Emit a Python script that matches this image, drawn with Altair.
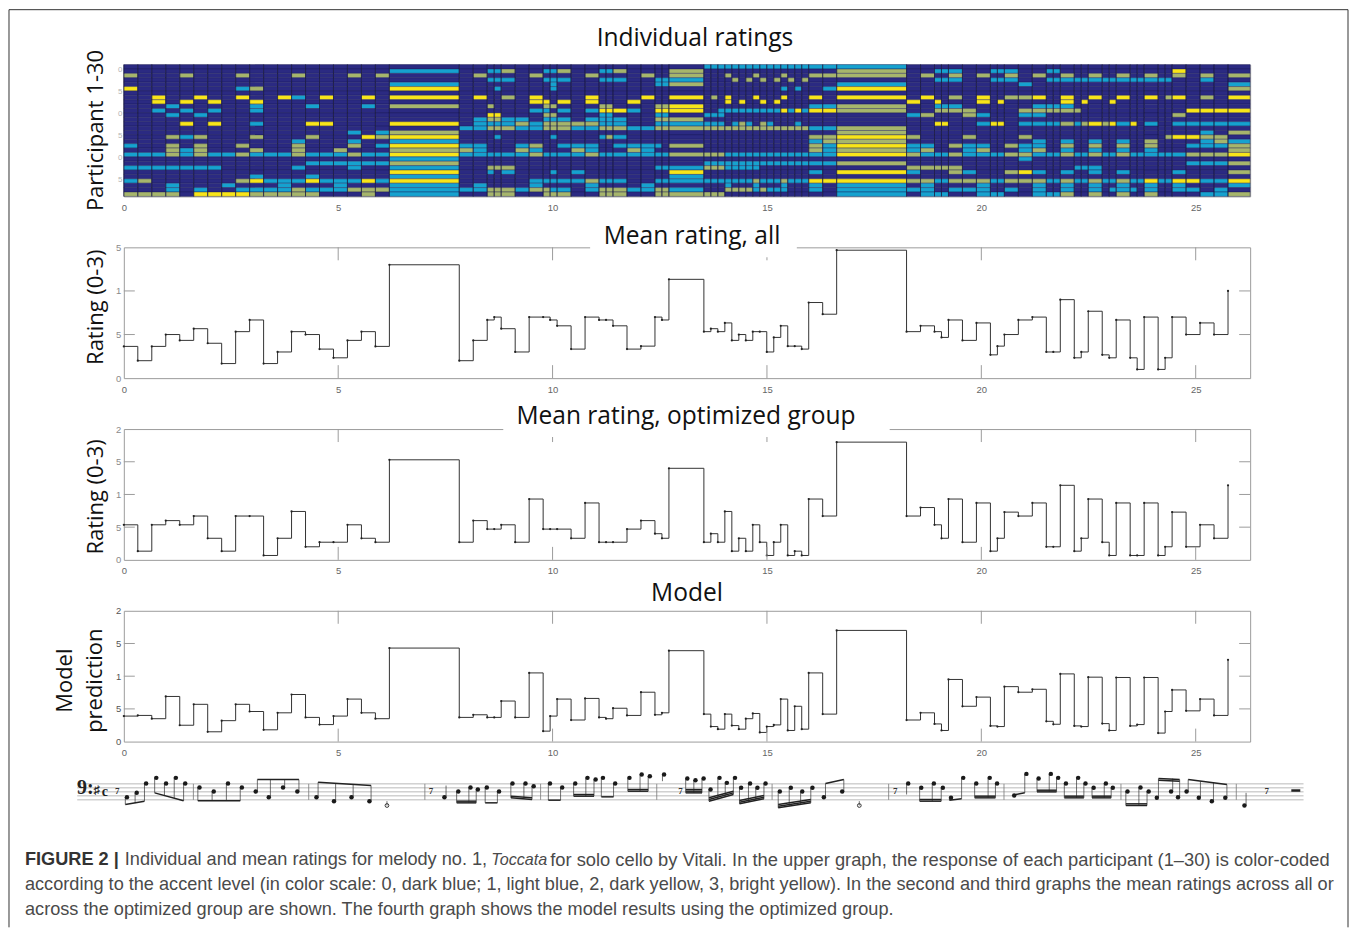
import altair as alt
import pandas as pd

# ---------- data ----------
SECONDS_PER_SIXTEENTH = 0.163
X_MAX = 26.27
ONSET = [0,2,4,6,8,10,12,14,16,18,20,22,24,26,28,30,32,34,36,38,
         48,50,52,53,54,56,58,60,61,62,64,66,68,69,70,72,74,76,77,78,
         83,84,85,86,87,88,89,90,91,92,93,94,95,96,97,98,100,102,
         112,114,116,117,118,120,122,124,125,126,128,130,132,133,134,136,137,138,
         140,141,142,144,145,146,148,149,150,152,154,156,158]

MEAN_ALL = [.364,.2,.364,.5,.433,.567,.4,.167,.533,.667,.167,.3,.533,.5,.333,.233,.433,.533,.364,1.3,
            .2,.433,.667,.7,.567,.3,.7,.7,.667,.6,.333,.7,.667,.667,.6,.333,.367,.7,.667,1.133,
            .533,.567,.533,.633,.433,.5,.433,.533,.533,.3,.467,.6,.367,.367,.333,.867,.733,1.467,
            .533,.6,.533,.467,.667,.433,.633,.267,.367,.5,.667,.7,.3,.3,.9,.233,.3,.767,
            .267,.233,.667,.233,.1,.7,.1,.233,.7,.5,.633,.5,1.0]
MEAN_OPT = [.536,.133,.536,.6,.536,.67,.33,.133,.67,.67,.067,.33,.74,.2,.27,.27,.536,.33,.27,1.53,
            .27,.6,.47,.47,.536,.27,.93,.47,.47,.47,.33,.87,.27,.27,.27,.47,.6,.4,.33,1.4,
            .27,.4,.27,.74,.133,.33,.133,.536,.27,.067,.27,.536,.067,.133,.067,.93,.67,1.8,
            .67,.8,.536,.33,.93,.27,.87,.133,.33,.73,.67,.87,.2,.2,1.14,.133,.33,.93,
            .27,.067,.87,.067,.067,.87,.067,.2,.73,.2,.536,.33,1.14]
MODEL = [.39,.4,.35,.69,.25,.57,.15,.32,.57,.46,.18,.44,.72,.37,.26,.39,.65,.44,.35,1.43,
         .37,.41,.37,.37,.62,.37,1.05,.16,.39,.65,.33,.66,.37,.35,.51,.4,.755,.41,.44,1.39,
         .42,.23,.19,.42,.245,.19,.35,.43,.14,.23,.255,.65,.17,.54,.19,1.05,.42,1.7,
         .33,.44,.27,.17,.95,.54,.68,.24,.23,.84,.755,.8,.31,.265,1.035,.24,.23,.985,
         .275,.17,.98,.24,.26,.98,.13,.46,.79,.47,.65,.40,1.25]

# every row: (first onset, last onset, accent level), top row first; anything unlisted is 0
ROW_00 = [(83,102,1)]
ROW_01 = [(38,38,1),(52,53,1),(54,54,2),(60,61,1),(62,62,2),(68,69,1),(70,70,2),(78,78,2),(102,102,2),(116,118,1),(124,126,1),(132,133,1),(150,150,3)]
ROW_02 = [(0,0,2),(8,8,2),(16,16,2),(24,24,2),(32,32,2),(36,36,2),(50,50,2),(58,58,2),(66,66,2),(74,74,2),(78,78,2),(86,86,2),(90,90,2),(94,94,2),(98,100,2),(102,102,2),(114,114,2),(118,118,2),(122,122,2),(126,126,2),(130,130,2),(134,134,2),(138,138,2),(142,142,2),(146,146,2),(150,150,2),(154,154,2),(158,158,2)]
ROW_03 = [(52,54,1),(60,62,1),(68,70,1),(76,78,1),(87,87,2),(89,89,2),(91,91,2),(93,93,2),(95,95,2),(97,97,2),(116,118,1),(124,126,1),(132,149,1),(154,154,1)]
ROW_04 = [(38,38,1),(61,61,1),(76,77,1),(78,78,2),(102,102,1),(128,128,1),(158,158,1)]
ROW_05 = [(0,0,3),(16,16,1),(18,18,2),(38,38,3),(53,53,1),(61,61,1),(94,94,1),(96,96,1),(100,100,1),(102,102,3),(158,158,2)]
ROW_06 = []
ROW_07 = [(4,4,3),(10,10,3),(16,16,3),(22,22,3),(24,24,1),(28,28,3),(34,34,3),(38,38,3),(50,50,3),(54,54,2),(58,58,3),(66,66,3),(74,74,3),(78,78,3),(84,84,2),(86,86,3),(90,90,3),(94,94,3),(98,98,3),(102,102,3),(114,114,3),(118,118,2),(122,122,3),(126,128,2),(130,130,3),(134,134,3),(138,138,3),(142,142,3),(146,146,3),(149,149,2),(150,150,3),(154,154,2),(158,158,3)]
ROW_08 = [(4,4,3),(8,8,3),(12,12,3),(18,18,3),(58,58,3),(60,60,3),(62,62,3),(66,66,3),(72,72,3),(86,86,3),(88,88,3),(91,91,3),(93,93,3),(112,112,3),(116,116,3),(122,122,3),(125,125,3),(134,134,3),(137,137,3),(141,141,3)]
ROW_09 = [(6,6,1),(18,18,1),(26,26,1),(34,34,1),(38,38,2),(52,52,2),(60,61,2),(68,69,2),(76,77,2),(78,78,3),(98,100,1),(102,102,2),(116,118,1),(130,134,1)]
ROW_10 = [(4,4,1),(8,8,1),(12,12,1),(18,18,1),(58,58,1),(60,60,1),(62,62,1),(66,66,1),(68,70,3),(72,72,1),(76,77,3),(78,78,3),(85,93,1),(94,94,3),(95,95,1),(96,96,3),(97,97,1),(98,100,3),(102,102,2),(116,120,2),(128,136,2),(152,158,3)]
ROW_11 = [(6,6,1),(10,10,1),(52,53,3),(60,61,2),(68,69,1),(76,77,1),(83,85,1),(112,112,1),(114,114,2),(120,120,2),(122,122,1),(128,130,1),(150,150,2)]
ROW_12 = [(50,50,1),(52,53,2),(54,56,1),(60,62,1),(66,66,1),(68,70,1),(76,77,2),(78,78,2)]
ROW_13 = [(8,8,3),(12,12,3),(18,18,1),(26,26,3),(28,28,3),(38,38,3),(50,54,1),(56,56,2),(58,58,1),(60,66,2),(68,70,1),(76,78,1),(83,85,1),(87,87,1),(88,88,2),(89,89,1),(91,91,2),(92,92,1),(96,96,1),(116,117,3),(122,122,1),(124,125,3),(128,133,1),(134,134,2),(136,136,1),(137,137,2),(138,138,3),(140,140,2),(141,141,3),(142,142,1),(144,144,3),(146,146,1),(150,158,1)]
ROW_14 = [(48,50,1),(52,54,2),(56,58,1),(60,62,2),(64,66,1),(68,70,2),(72,74,1),(76,78,2),(83,97,2),(98,100,1),(102,102,2)]
ROW_15 = [(32,32,1),(36,36,1),(38,38,2),(102,102,2),(154,154,1),(158,158,2)]
ROW_16 = [(6,6,2),(8,8,1),(10,10,2),(18,18,2),(26,26,2),(34,34,3),(36,36,2),(38,38,3),(53,53,1),(61,61,1),(68,68,1),(69,69,2),(70,70,1),(98,100,2),(102,102,3),(112,112,2),(120,120,2),(128,128,2),(149,149,2),(150,152,3),(154,156,2)]
ROW_17 = [(24,24,1),(32,32,1),(38,38,1),(98,98,1),(100,100,2),(102,102,2),(130,130,1),(134,134,1),(138,138,1),(142,142,1),(146,146,2),(154,154,1),(156,156,2),(158,158,1)]
ROW_18 = [(0,0,1),(6,6,2),(10,10,2),(16,16,2),(24,24,2),(32,32,2),(36,36,1),(38,38,3),(48,50,1),(56,56,1),(58,58,2),(62,62,1),(64,66,1),(70,76,1),(78,78,2),(98,98,2),(100,100,1),(102,102,3),(112,114,1),(118,118,2),(120,122,1),(126,126,2),(128,130,1),(134,134,2),(138,138,2),(142,142,2),(146,146,2),(152,156,1),(158,158,2)]
ROW_19 = [(6,6,2),(8,8,1),(10,10,2),(18,18,2),(24,24,2),(30,30,2),(38,38,2),(48,48,2),(50,50,1),(56,56,2),(58,58,1),(64,64,2),(66,66,1),(72,72,2),(74,74,1),(98,98,2),(100,100,1),(102,102,2),(112,112,1),(114,114,2),(120,120,1),(122,122,2),(128,128,1),(130,130,2),(134,134,1),(138,138,1),(142,142,1),(146,146,1),(158,158,2)]
ROW_20 = [(0,4,1),(6,6,2),(8,8,1),(10,10,2),(12,14,1),(16,16,2),(18,22,1),(24,24,2),(26,30,1),(32,32,2),(34,36,1),(38,38,3),(48,56,1),(58,58,2),(60,64,1),(66,66,2),(68,77,1),(78,78,2),(83,85,2),(86,100,1),(102,102,3),(112,112,2),(114,117,1),(118,118,2),(120,125,1),(126,128,2),(130,133,1),(134,134,2),(136,137,1),(138,138,2),(140,141,1),(142,142,2),(144,150,1),(152,156,2),(158,158,3)]
ROW_21 = [(38,38,1),(128,128,1)]
ROW_22 = [(26,36,1),(38,38,2),(83,100,1),(102,102,2),(152,156,1),(158,158,2)]
ROW_23 = [(0,12,1),(24,24,1),(32,32,1),(38,38,1),(52,54,2),(76,78,1),(83,85,2),(86,90,1),(112,118,2),(136,138,1)]
ROW_24 = [(38,38,3),(52,52,1),(54,54,1),(61,61,1),(64,64,1),(78,78,3),(98,98,1),(102,102,3),(112,112,1),(118,118,2),(120,120,1),(126,126,2),(128,128,3),(130,130,1),(134,134,1),(138,138,1),(142,142,1),(150,150,1),(158,158,2)]
ROW_25 = [(18,18,1),(26,26,1),(38,38,1),(78,78,1)]
ROW_26 = [(0,0,1),(2,2,2),(16,16,2),(18,18,3),(20,24,1),(26,26,3),(28,32,1),(34,34,3),(36,36,1),(38,38,3),(58,64,1),(66,66,2),(68,70,1),(76,78,1),(83,89,1),(90,90,2),(91,93,1),(94,94,2),(95,97,1),(98,100,3),(102,102,3),(112,114,2),(116,117,1),(118,122,2),(124,125,1),(126,130,2),(132,133,1),(134,134,2),(136,137,1),(138,138,2),(140,141,1),(142,142,2),(144,145,1),(146,146,3),(148,149,1),(150,152,3),(154,156,1),(158,158,3)]
ROW_27 = [(6,6,1),(14,14,1),(22,22,1),(30,30,1),(38,38,1),(50,50,1),(58,58,1),(66,66,1),(74,74,1),(86,86,1),(90,90,1),(94,94,1),(98,98,1),(102,102,1),(114,114,1),(122,122,1),(130,130,1),(134,134,1),(138,138,1),(142,142,1),(146,146,1),(150,150,1),(158,158,1)]
ROW_28 = [(6,6,1),(10,10,1),(16,22,1),(24,24,2),(26,30,1),(32,36,2),(38,38,1),(48,50,1),(52,54,2),(56,56,1),(58,60,2),(61,62,1),(66,66,1),(68,70,2),(72,74,1),(76,77,2),(78,78,1),(86,89,2),(90,90,1),(91,91,2),(92,94,1),(98,98,1),(102,102,1),(112,114,1),(118,122,1),(126,126,1),(130,130,1),(134,134,1),(138,138,1),(141,144,1),(146,146,1),(150,152,1),(156,156,1)]
ROW_29 = [(0,6,2),(10,16,3),(18,26,2),(34,34,2),(38,38,1),(52,54,2),(60,62,2),(68,70,2),(76,78,2),(83,85,2),(102,102,1),(114,117,1),(122,125,1),(130,133,1),(134,134,2),(138,138,2),(142,142,2),(146,146,2),(154,156,1),(158,158,2)]
ROWS = [ROW_00,ROW_01,ROW_02,ROW_03,ROW_04,ROW_05,ROW_06,ROW_07,ROW_08,ROW_09,
        ROW_10,ROW_11,ROW_12,ROW_13,ROW_14,ROW_15,ROW_16,ROW_17,ROW_18,ROW_19,
        ROW_20,ROW_21,ROW_22,ROW_23,ROW_24,ROW_25,ROW_26,ROW_27,ROW_28,ROW_29]

LEVEL_COLORS = ["#2b2a82", "#16a2cf", "#a6b56c", "#f8e51a"]
X_TICKS = [0, 5, 10, 15, 20, 25]

# the score: beamed groups of (position, head height, stem end), beam count
SCORE_GROUPS = [
 ([(162,113,135),(186,100,131),(209,72,125)],1),
 ([(234,55,100),(258,72,108),(282,55,116),(305,72,124)],1),
 ([(340,84,124),(375,96,124),(410,72,124),(444,84,124)],1),
 ([(478,96,60),(510,113,60),(545,84,60),(580,96,60)],1),
 ([(627,113,68),(670,125,71),(713,113,75),(757,125,78)],1),
 ([(941,113,78)],1),
 ([(975,96,130),(1005,84,130),(1023,90,130)],2),
 ([(1045,84,130),(1075,96,130)],1),
 ([(1108,72,115),(1140,72,118),(1160,80,120)],2),
 ([(1200,72,122),(1230,84,122)],1),
 ([(1262,72,110),(1292,55,110),(1312,60,110)],2),
 ([(1330,55,112),(1360,72,112)],1),
 ([(1395,55,95),(1425,45,95),(1445,50,95)],2),
 ([(1480,45,65)],1),
 ([(1537,57,100),(1557,62,100),(1577,57,100)],3),
 ([(1594,90,125),(1616,55,118),(1634,70,112),(1654,55,105)],3),
 ([(1669,85,133),(1691,72,128),(1709,85,123),(1729,72,118)],3),
 ([(1764,96,145),(1791,85,140),(1819,96,135),(1844,85,130)],3),
 ([(1872,113,72),(1917,96,60)],1),
 ([(2079,72,105)],1),
 ([(2111,85,125),(2142,72,125),(2164,85,125)],2),
 ([(2184,115,122),(2214,55,118)],1),
 ([(2246,72,115),(2279,55,115),(2297,72,115)],2),
 ([(2339,108,105),(2369,43,100)],1),
 ([(2399,57,97),(2429,43,97),(2447,55,97)],2),
 ([(2466,72,115),(2496,55,115),(2514,72,115)],2),
 ([(2534,85,115),(2564,72,115),(2581,85,115)],2),
 ([(2617,96,138),(2649,84,138),(2669,96,138)],2),
 ([(2689,115,57),(2724,96,57),(2741,113,60)],2),
 ([(2762,96,60),(2792,115,65),(2824,125,70),(2857,115,75)],1),
 ([(2904,138,100)],1),
]
HALF_U = [800, 1959]
HALF_V = [138, 138]
HALF_S = [125, 125]
STAFF_LINES = [73, 85, 97, 109, 121]
BARLINES = [325, 608, 893, 1177, 1462, 1745, 2031, 2314, 2601, 2884]
REST_U = [138, 908, 1520, 2047, 2959]
REST_V = [95, 95, 95, 95, 95]
REST_BOX_U = [3019, 3041]
REST_BOX_V = [93, 93]
KEY_U = [60, 88, 108]
KEY_V = [84, 92, 96]
KEY_T = ["9:", "♯", "c"]
KEY_S = [20, 12, 14]

TITLES = ["Individual ratings", "Mean rating, all", "Mean rating, optimized group", "Model"]
YTITLE_1 = "Participant 1-30"
YTITLE_2 = "Rating (0-3)"
YTITLE_4 = ["Model", "prediction"]
CAPTION_BOLD = "FIGURE 2 |"
CAPTION_1A = "Individual and mean ratings for melody no. 1,"
CAPTION_1I = "Toccata"
CAPTION_1B = "for solo cello by Vitali. In the upper graph, the response of each participant (1–30) is color-coded"
CAPTION_2 = "according to the accent level (in color scale: 0, dark blue; 1, light blue, 2, dark yellow, 3, bright yellow). In the second and third graphs the mean ratings across all or"
CAPTION_3 = "across the optimized group are shown. The fourth graph shows the model results using the optimized group."

# ---------- layout ----------
W = 1128
TITLE_FONT = "Open Sans"
TS = 24.6
GREY = "#9c9c9c"
T = [n * SECONDS_PER_SIXTEENTH for n in ONSET]
T_END = T[1:] + [X_MAX]
xscale = alt.Scale(domain=[0, X_MAX], nice=False, zero=False)


def txt(s, x, y, size=TS, angle=0, font=TITLE_FONT, align="center", color="#111111", style="normal", weight="normal"):
    kw = dict(text=s, font=font, fontSize=size, align=align, baseline="middle", color=color, fontStyle=style, fontWeight=weight)
    if angle:
        kw["angle"] = angle
    return alt.Chart().mark_text(**kw).encode(x=alt.value(x), y=alt.value(y))


def white(x0, x1, y0, y1):
    return alt.Chart().mark_rect(color="white").encode(
        x=alt.value(x0), x2=alt.value(x1), y=alt.value(y0), y2=alt.value(y1))


AX_X = alt.Axis(values=X_TICKS, title=None, ticks=False, domain=False, grid=False, labelFont="Liberation Sans",
                labelFontSize=9.5, labelColor="#666666", labelPadding=6, labelFlush=False)


def curve_panel(values, ymax, yticks, label_expr, H, label_color):
    df = pd.DataFrame({"t": T, "v": values})
    yscale = alt.Scale(domain=[0, ymax], nice=False, zero=False)
    ax_y = alt.Axis(values=yticks, title=None, ticks=False, domain=False, grid=False, labelExpr=label_expr,
                    labelFont="Liberation Sans", labelFontSize=9.5, labelColor=label_color, labelPadding=3)
    xt = pd.DataFrame({"t": X_TICKS[1:]})
    yt = pd.DataFrame({"v": yticks[1:-1]})
    tick = dict(color=GREY, strokeWidth=1)
    X = alt.X("t:Q", scale=xscale, axis=AX_X)
    Y = alt.Y("v:Q", scale=yscale, axis=ax_y)
    return [
        alt.Chart(df).mark_line(interpolate="step-after", color="#333333", strokeWidth=1).encode(x=X, y=Y),
        alt.Chart(df).mark_circle(color="#222222", size=5, opacity=1).encode(x=X, y=Y),
        alt.Chart(xt).mark_rule(**tick).encode(x=X, y=alt.value(0), y2=alt.value(13)),
        alt.Chart(xt).mark_rule(**tick).encode(x=X, y=alt.value(H - 13), y2=alt.value(H)),
        alt.Chart(yt).mark_rule(**tick).encode(y=Y, x=alt.value(0), x2=alt.value(11)),
        alt.Chart(yt).mark_rule(**tick).encode(y=Y, x=alt.value(W - 11), x2=alt.value(W)),
    ]


# panel 1 : heat map
cells = []
for r, row in enumerate(ROWS):
    levels = {n: 0 for n in ONSET}
    for a, b, v in row:
        for n in ONSET:
            if a <= n <= b:
                levels[n] = v
    for i, n in enumerate(ONSET):
        cells.append({"t": T[i], "t2": T_END[i], "y": 29 - r, "y2": 30 - r, "level": levels[n]})
heat = alt.Chart(pd.DataFrame(cells)).mark_rect(stroke="#1d1d55", strokeWidth=0.4).encode(
    x=alt.X("t:Q", scale=xscale, axis=AX_X), x2="t2:Q",
    y=alt.Y("y:Q", scale=alt.Scale(domain=[0, 30], nice=False, zero=False),
            axis=alt.Axis(values=[28.8, 23.8, 18.8, 13.8, 8.8, 3.8], title=None, ticks=False, domain=False, grid=False,
                          labelExpr="(round(datum.value + 1.2) % 10) == 0 ? '0' : '5'",
                          labelFont="Liberation Sans", labelFontSize=8, labelColor="#b5b5b5", labelPadding=2)),
    y2="y2:Q",
    color=alt.Color("level:N", scale=alt.Scale(domain=[0, 1, 2, 3], range=LEVEL_COLORS), legend=None),
)
edges = alt.Chart(pd.DataFrame({"t": T})).mark_rule(color="#1a1a3c", strokeWidth=0.9, opacity=0.75).encode(
    x=alt.X("t:Q", scale=xscale, axis=AX_X))
view = alt.ViewBackground(stroke=GREY)
P1 = alt.layer(heat, edges, txt(TITLES[0], 572, -26), txt(YTITLE_1, -28, 66, size=22, angle=270)
               ).properties(width=W, height=132, view=view)

lab = "datum.value == 0 ? '0' : datum.value == 1 ? '1' : datum.value == 2 ? '2' : '5'"
P2 = alt.layer(*curve_panel(MEAN_ALL, 1.5, [0, .5, 1, 1.5], lab, 131, "#8a8a8a"),
               white(467, 674, -22, 10), txt(TITLES[1], 569, -10), txt(YTITLE_2, -28, 60, size=22, angle=270)
               ).properties(width=W, height=131, view=view)
P3 = alt.layer(*curve_panel(MEAN_OPT, 2, [0, .5, 1, 1.5, 2], lab, 131, "#8a8a8a"),
               white(380, 767, -24, 8), txt(TITLES[2], 563, -12), txt(YTITLE_2, -28, 68, size=22, angle=270)
               ).properties(width=W, height=131, view=view)
P4 = alt.layer(*curve_panel(MODEL, 2, [0, .5, 1, 1.5, 2], lab, 131, "#555555"),
               txt(TITLES[3], 564, -17), txt(YTITLE_4[0], -59, 70, size=22, angle=270), txt(YTITLE_4[1], -29, 70, size=22, angle=270)
               ).properties(width=W, height=131, view=view)

# panel 5 : score, frame, caption
H5 = 16
ux = alt.Scale(domain=[154.35, 2918.0], nice=False, zero=False)
vy = alt.Scale(domain=[147, 99], nice=False, zero=False)
U = alt.X("u:Q", scale=ux, axis=None)
V = alt.Y("v:Q", scale=vy, axis=None)

heads, stems, beams = [], [], []
for gi, (group, nbeams) in enumerate(SCORE_GROUPS):
    for u, v, s in group:
        up = s < v
        su = u + 4 if up else u - 4
        heads.append({"u": u, "v": v})
        stems.append({"u": su, "v": v, "v2": s})
    if len(group) > 1:
        for b in range(nbeams):
            off = (5 * b) if group[0][2] < group[0][1] else (-5 * b)
            for u, v, s in (group[0], group[-1]):
                su = u + 4 if s < v else u - 4
                beams.append({"u": su, "v": s + off, "g": f"{gi}-{b}"})

staff = pd.DataFrame({"v": STAFF_LINES, "u": [40] * 5, "u2": [3049] * 5})
bars = pd.DataFrame({"u": BARLINES, "v": [73] * len(BARLINES), "v2": [121] * len(BARLINES)})
half = pd.DataFrame({"u": HALF_U, "v": HALF_V, "v2": HALF_S})
rests = pd.DataFrame({"u": REST_U, "v": REST_V, "t": ["7"] * len(REST_U)})
rest_box = pd.DataFrame({"u": REST_BOX_U[:1], "u2": REST_BOX_U[1:], "v": REST_BOX_V[:1]})
key = pd.DataFrame({"u": KEY_U, "v": KEY_V, "t": KEY_T, "s": KEY_S})

score = [
    alt.Chart(staff).mark_rule(color="#a8a8a8", strokeWidth=0.8).encode(x=U, x2="u2:Q", y=V),
    alt.Chart(bars).mark_rule(color="#777777", strokeWidth=0.8).encode(x=U, y=V, y2="v2:Q"),
    alt.Chart(pd.DataFrame(stems)).mark_rule(color="#333333", strokeWidth=0.7).encode(x=U, y=V, y2="v2:Q"),
    alt.Chart(half).mark_rule(color="#333333", strokeWidth=0.7).encode(x=U, y=V, y2="v2:Q"),
    alt.Chart(pd.DataFrame(beams)).mark_line(color="#222222", strokeWidth=1.5).encode(x=U, y=V, detail="g:N"),
    alt.Chart(pd.DataFrame(heads)).mark_point(filled=True, color="#1a1a1a", opacity=1, size=20, shape="circle").encode(x=U, y=V),
    alt.Chart(half).mark_point(filled=False, color="#333333", opacity=1, size=14, shape="circle", strokeWidth=1).encode(x=U, y=V),
    alt.Chart(rests).mark_text(font="Liberation Serif", fontSize=9, fontWeight="bold", color="#333333").encode(x=U, y=V, text="t:N"),
    alt.Chart(rest_box).mark_rule(color="#222222", strokeWidth=2.5).encode(x=U, x2="u2:Q", y=V),
    alt.Chart(key).mark_text(font="Liberation Serif", fontWeight="bold", color="#222222").encode(
        x=U, y=V, text="t:N", size=alt.Size("s:Q", scale=None, legend=None)),
]

frame = dict(color="#333333", strokeWidth=1)
LEFT, RIGHT, TOP, BOTTOM = -115, 1226, -784, 135
frame_layers = [
    alt.Chart().mark_rule(**frame).encode(x=alt.value(LEFT), y=alt.value(TOP), y2=alt.value(BOTTOM)),
    alt.Chart().mark_rule(**frame).encode(x=alt.value(RIGHT), y=alt.value(TOP), y2=alt.value(BOTTOM)),
    alt.Chart().mark_rule(**frame).encode(x=alt.value(LEFT), x2=alt.value(RIGHT), y=alt.value(TOP)),
]
CF = "Liberation Sans"
CC = "#4a4a4a"
CAP_Y = [68, 93, 118]
caption = [
    txt(CAPTION_BOLD, -99, CAP_Y[0], size=18.2, font=CF, align="left", color="#333333", weight="bold"),
    txt(CAPTION_1A, 1, CAP_Y[0], size=18.2, font=CF, align="left", color=CC),
    txt(CAPTION_1I, 368, CAP_Y[0], size=16.2, font=CF, align="left", color=CC, style="italic"),
    txt(CAPTION_1B, 427, CAP_Y[0], size=18.35, font=CF, align="left", color=CC),
    txt(CAPTION_2, -99, CAP_Y[1], size=18.17, font=CF, align="left", color=CC),
    txt(CAPTION_3, -99, CAP_Y[2], size=18.2, font=CF, align="left", color=CC),
]
P5 = alt.layer(*score, *frame_layers, *caption).properties(width=W, height=H5, view=alt.ViewBackground(stroke=None))

chart = alt.vconcat(P1, P2, P3, P4, P5, spacing=51, bounds="flush").properties(
    padding={"left": 0, "top": 0, "right": 0, "bottom": 0}, background="white")

chart.save("out.html", embed_options={"renderer": "svg", "actions": False})
